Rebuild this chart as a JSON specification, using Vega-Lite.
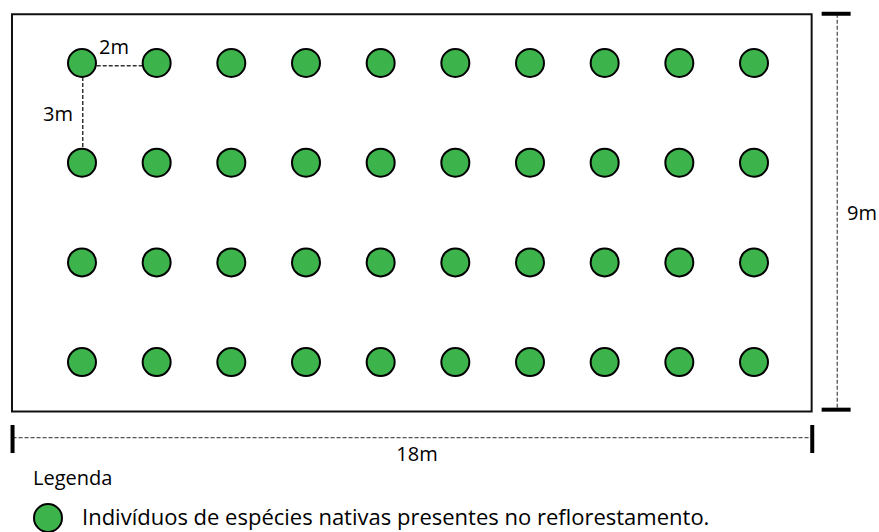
{
  "$schema": "https://vega.github.io/schema/vega-lite/v6.json",
  "width": 879,
  "height": 532,
  "autosize": {"type": "fit", "contains": "padding"},
  "padding": 0,
  "background": "white",
  "config": {"view": {"stroke": null}},
  "datasets": {
    "arvores": [
      {"col": 0, "row": 0, "tipo": "Indivíduos de espécies nativas presentes no reflorestamento."},
      {"col": 1, "row": 0, "tipo": "Indivíduos de espécies nativas presentes no reflorestamento."},
      {"col": 2, "row": 0, "tipo": "Indivíduos de espécies nativas presentes no reflorestamento."},
      {"col": 3, "row": 0, "tipo": "Indivíduos de espécies nativas presentes no reflorestamento."},
      {"col": 4, "row": 0, "tipo": "Indivíduos de espécies nativas presentes no reflorestamento."},
      {"col": 5, "row": 0, "tipo": "Indivíduos de espécies nativas presentes no reflorestamento."},
      {"col": 6, "row": 0, "tipo": "Indivíduos de espécies nativas presentes no reflorestamento."},
      {"col": 7, "row": 0, "tipo": "Indivíduos de espécies nativas presentes no reflorestamento."},
      {"col": 8, "row": 0, "tipo": "Indivíduos de espécies nativas presentes no reflorestamento."},
      {"col": 9, "row": 0, "tipo": "Indivíduos de espécies nativas presentes no reflorestamento."},
      {"col": 0, "row": 1, "tipo": "Indivíduos de espécies nativas presentes no reflorestamento."},
      {"col": 1, "row": 1, "tipo": "Indivíduos de espécies nativas presentes no reflorestamento."},
      {"col": 2, "row": 1, "tipo": "Indivíduos de espécies nativas presentes no reflorestamento."},
      {"col": 3, "row": 1, "tipo": "Indivíduos de espécies nativas presentes no reflorestamento."},
      {"col": 4, "row": 1, "tipo": "Indivíduos de espécies nativas presentes no reflorestamento."},
      {"col": 5, "row": 1, "tipo": "Indivíduos de espécies nativas presentes no reflorestamento."},
      {"col": 6, "row": 1, "tipo": "Indivíduos de espécies nativas presentes no reflorestamento."},
      {"col": 7, "row": 1, "tipo": "Indivíduos de espécies nativas presentes no reflorestamento."},
      {"col": 8, "row": 1, "tipo": "Indivíduos de espécies nativas presentes no reflorestamento."},
      {"col": 9, "row": 1, "tipo": "Indivíduos de espécies nativas presentes no reflorestamento."},
      {"col": 0, "row": 2, "tipo": "Indivíduos de espécies nativas presentes no reflorestamento."},
      {"col": 1, "row": 2, "tipo": "Indivíduos de espécies nativas presentes no reflorestamento."},
      {"col": 2, "row": 2, "tipo": "Indivíduos de espécies nativas presentes no reflorestamento."},
      {"col": 3, "row": 2, "tipo": "Indivíduos de espécies nativas presentes no reflorestamento."},
      {"col": 4, "row": 2, "tipo": "Indivíduos de espécies nativas presentes no reflorestamento."},
      {"col": 5, "row": 2, "tipo": "Indivíduos de espécies nativas presentes no reflorestamento."},
      {"col": 6, "row": 2, "tipo": "Indivíduos de espécies nativas presentes no reflorestamento."},
      {"col": 7, "row": 2, "tipo": "Indivíduos de espécies nativas presentes no reflorestamento."},
      {"col": 8, "row": 2, "tipo": "Indivíduos de espécies nativas presentes no reflorestamento."},
      {"col": 9, "row": 2, "tipo": "Indivíduos de espécies nativas presentes no reflorestamento."},
      {"col": 0, "row": 3, "tipo": "Indivíduos de espécies nativas presentes no reflorestamento."},
      {"col": 1, "row": 3, "tipo": "Indivíduos de espécies nativas presentes no reflorestamento."},
      {"col": 2, "row": 3, "tipo": "Indivíduos de espécies nativas presentes no reflorestamento."},
      {"col": 3, "row": 3, "tipo": "Indivíduos de espécies nativas presentes no reflorestamento."},
      {"col": 4, "row": 3, "tipo": "Indivíduos de espécies nativas presentes no reflorestamento."},
      {"col": 5, "row": 3, "tipo": "Indivíduos de espécies nativas presentes no reflorestamento."},
      {"col": 6, "row": 3, "tipo": "Indivíduos de espécies nativas presentes no reflorestamento."},
      {"col": 7, "row": 3, "tipo": "Indivíduos de espécies nativas presentes no reflorestamento."},
      {"col": 8, "row": 3, "tipo": "Indivíduos de espécies nativas presentes no reflorestamento."},
      {"col": 9, "row": 3, "tipo": "Indivíduos de espécies nativas presentes no reflorestamento."}
    ],
    "area": [{"x1": -0.9375, "x2": 9.772, "y1": -0.4895, "y2": 3.4955}],
    "cotas": [
      {"x1": 10.115, "x2": 10.115, "y1": -0.494, "y2": 3.477},
      {"x1": -0.93, "x2": 9.78, "y1": 3.758, "y2": 3.758}
    ],
    "limites": [
      {"x1": 9.906, "x2": 10.294, "y1": -0.494, "y2": -0.494},
      {"x1": 9.906, "x2": 10.294, "y1": 3.477, "y2": 3.477},
      {"x1": -0.93, "x2": -0.93, "y1": 3.631, "y2": 3.912},
      {"x1": 9.78, "x2": 9.78, "y1": 3.631, "y2": 3.912}
    ],
    "espacamento": [
      {"x1": 0.197, "x2": 0.813, "y1": 0.027, "y2": 0.027},
      {"x1": 0.01, "x2": 0.01, "y1": 0.14, "y2": 0.853}
    ],
    "rotulos": [
      {"x": 0.4286, "y": -0.15, "texto": "2m"},
      {"x": -0.321, "y": 0.522, "texto": "3m"},
      {"x": 10.446, "y": 1.515, "texto": "9m"},
      {"x": 4.486, "y": 3.932, "texto": "18m"}
    ]
  },
  "layer": [
    {
      "data": {"name": "area"},
      "mark": {"type": "rect", "fill": null, "fillOpacity": 0, "stroke": "#111111", "strokeWidth": 2},
      "encoding": {
        "x": {"field": "x1", "type": "quantitative", "axis": null, "scale": {"domain": [-1.098, 10.674], "nice": false, "zero": false}},
        "x2": {"field": "x2"},
        "y": {"field": "y1", "type": "quantitative", "axis": null, "scale": {"domain": [-0.632, 4.704], "nice": false, "zero": false, "reverse": true}},
        "y2": {"field": "y2"}
      }
    },
    {
      "data": {"name": "cotas"},
      "mark": {"type": "rule", "stroke": "#555555", "strokeWidth": 1.3, "strokeDash": [4, 2]},
      "encoding": {
        "x": {"field": "x1", "type": "quantitative"},
        "x2": {"field": "x2"},
        "y": {"field": "y1", "type": "quantitative"},
        "y2": {"field": "y2"}
      }
    },
    {
      "data": {"name": "limites"},
      "mark": {"type": "rule", "stroke": "#000000", "strokeWidth": 4},
      "encoding": {
        "x": {"field": "x1", "type": "quantitative"},
        "x2": {"field": "x2"},
        "y": {"field": "y1", "type": "quantitative"},
        "y2": {"field": "y2"}
      }
    },
    {
      "data": {"name": "espacamento"},
      "mark": {"type": "rule", "stroke": "#333333", "strokeWidth": 1.5, "strokeDash": [4, 2]},
      "encoding": {
        "x": {"field": "x1", "type": "quantitative"},
        "x2": {"field": "x2"},
        "y": {"field": "y1", "type": "quantitative"},
        "y2": {"field": "y2"}
      }
    },
    {
      "data": {"name": "arvores"},
      "mark": {"type": "point", "shape": "circle", "filled": true, "size": 784, "stroke": "#000000", "strokeWidth": 2, "opacity": 1},
      "encoding": {
        "x": {"field": "col", "type": "quantitative"},
        "y": {"field": "row", "type": "quantitative"},
        "fill": {
          "field": "tipo", "type": "nominal",
          "scale": {"range": ["#3cb44b"]},
          "legend": {
            "orient": "none", "legendX": 33, "legendY": 469, "padding": 0,
            "title": "Legenda", "titleFont": "Open Sans", "titleFontSize": 20, "titleFontWeight": "normal", "titleColor": "#000000", "titlePadding": 14,
            "labelFont": "Open Sans", "labelFontSize": 22, "labelColor": "#000000", "labelOffset": 19, "labelLimit": 0,
            "symbolType": "circle", "symbolSize": 784, "symbolStrokeColor": "#000000", "symbolStrokeWidth": 2, "symbolOpacity": 1, "symbolFillColor": "#3cb44b"
          }
        }
      }
    },
    {
      "data": {"name": "rotulos"},
      "mark": {"type": "text", "font": "Open Sans", "fontSize": 20, "color": "#000000", "align": "center", "baseline": "middle"},
      "encoding": {
        "x": {"field": "x", "type": "quantitative"},
        "y": {"field": "y", "type": "quantitative"},
        "text": {"field": "texto"}
      }
    }
  ]
}
